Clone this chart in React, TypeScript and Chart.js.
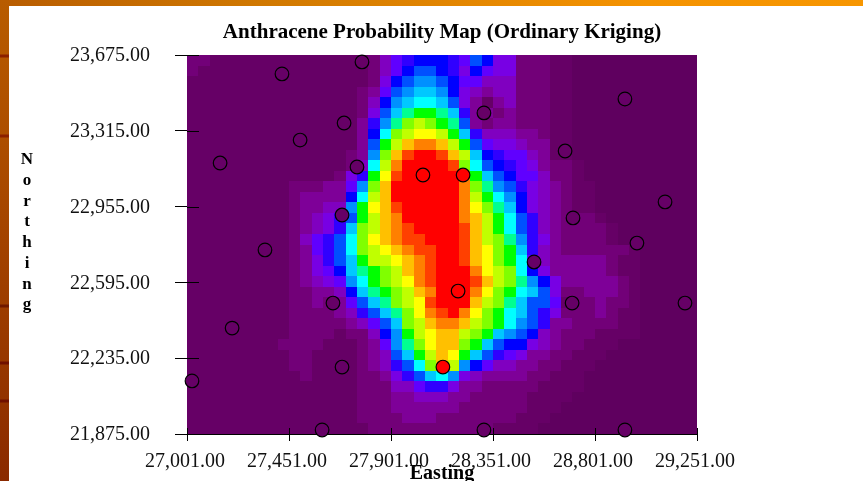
import React, { useEffect, useRef } from "react";
import { Chart, registerables } from "chart.js";

Chart.register(...registerables);

const titleText = "Anthracene Probability Map (Ordinary Kriging)";
const xAxisTitle = "Easting";
const yAxisTitle = "Northing";
const xTickValues = [27001, 27451, 27901, 28351, 28801, 29251];
const yTickValues = [21875, 22235, 22595, 22955, 23315, 23675];

const gridEastStart = 27001;
const gridNorthTop = 23675;
const gridStep = 50;

// Probability class of each kriged cell, north to south, west to east.
const levelRows: number[][] = [
  [2,2,1,1,1, 1,1,1,1,1, 1,1,1,1,1, 1,2,4,6,7, 8,8,8,7,6, 9,8,5,5,2, 2,2,1,1,0, 0,0,0,0,0, 0,0,0,0,0],
  [2,1,1,1,1, 1,1,1,1,1, 1,1,1,1,1, 1,2,4,6,8, 9,9,8,7,5, 8,6,5,5,2, 2,2,1,1,0, 0,0,0,0,0, 0,0,0,0,0],
  [1,1,1,1,1, 1,1,1,1,1, 1,1,1,1,1, 1,2,5,8,9, 10,10,9,8,6, 6,4,4,4,2, 2,2,1,1,0, 0,0,0,0,0, 0,0,0,0,0],
  [1,1,1,1,1, 1,1,1,1,1, 1,1,1,1,1, 2,3,6,9,10, 11,11,10,8,5, 4,3,4,4,2, 2,2,1,1,0, 0,0,0,0,0, 0,0,0,0,0],
  [1,1,1,1,1, 1,1,1,1,1, 1,1,1,1,1, 2,4,8,10,11, 12,12,11,9,5, 3,1,3,4,2, 2,2,1,1,0, 0,0,0,0,0, 0,0,0,0,0],
  [1,1,1,1,1, 1,1,1,1,1, 1,1,1,1,1, 2,5,9,11,13, 14,14,13,11,7, 3,3,2,3,2, 2,2,1,1,0, 0,0,0,0,0, 0,0,0,0,0],
  [1,1,1,1,1, 1,1,1,1,1, 1,1,1,1,1, 3,7,10,13,15, 16,15,14,13,9, 3,2,3,3,2, 2,2,1,1,0, 0,0,0,0,0, 0,0,0,0,0],
  [1,1,1,1,1, 1,1,1,1,1, 1,1,1,1,1, 3,8,12,15,16, 17,17,16,14,11, 7,4,4,4,3, 3,2,1,1,0, 0,0,0,0,0, 0,0,0,0,0],
  [1,1,1,1,1, 1,1,1,1,1, 1,1,1,1,1, 3,9,14,16,18, 19,19,18,16,14, 9,6,5,5,4, 3,3,1,1,0, 0,0,0,0,0, 0,0,0,0,0],
  [1,1,1,1,1, 1,1,1,1,1, 1,1,1,1,2, 3,10,15,18,20, 21,21,20,18,16, 11,8,7,6,6, 4,3,1,1,0, 0,0,0,0,0, 0,0,0,0,0],
  [1,1,1,1,1, 1,1,1,1,1, 1,1,1,1,2, 4,12,16,19,21, 21,21,21,20,15, 12,9,8,7,6, 5,3,2,2,1, 0,0,0,0,0, 0,0,0,0,0],
  [1,1,1,1,1, 1,1,1,1,1, 1,1,1,2,5, 7,14,17,20,21, 21,21,21,21,19, 14,11,9,8,6, 6,4,2,2,1, 0,0,0,0,0, 0,0,0,0,0],
  [1,1,1,1,1, 1,1,1,1,2, 2,2,3,3,6, 10,15,18,21,21, 21,21,21,21,19, 15,13,10,9,7, 5,4,3,2,1, 1,0,0,0,0, 0,0,0,0,0],
  [1,1,1,1,1, 1,1,1,1,2, 3,3,3,3,8, 12,16,18,21,21, 21,21,21,21,19, 16,14,12,10,8, 5,4,3,2,1, 1,0,0,0,0, 0,0,0,0,0],
  [1,1,1,1,1, 1,1,1,1,2, 3,3,4,4,10, 14,17,18,20,21, 21,21,21,21,19, 17,15,13,11,8, 5,4,3,2,1, 1,0,0,0,0, 0,0,0,0,0],
  [1,1,1,1,1, 1,1,1,1,2, 3,4,5,7,9, 14,16,18,19,21, 21,21,21,21,19, 18,16,14,12,9, 7,4,3,2,2, 2,1,0,0,0, 0,0,0,0,0],
  [1,1,1,1,1, 1,1,1,1,2, 3,4,5,7,11, 15,16,18,19,20, 21,21,21,21,20, 18,16,14,12,9, 7,4,3,2,2, 2,2,1,0,0, 0,0,0,0,0],
  [1,1,1,1,1, 1,1,1,1,2, 4,6,7,9,12, 15,17,18,19,20, 20,21,21,21,20, 18,16,15,13,10, 7,5,3,2,2, 2,2,1,0,0, 0,0,0,0,0],
  [1,1,1,1,1, 1,1,1,1,2, 3,6,7,9,12, 15,16,17,18,19, 20,20,21,21,20, 18,17,15,14,11, 7,4,3,2,2, 2,2,2,2,1, 0,0,0,0,0],
  [1,1,1,1,1, 1,1,1,1,2, 3,5,7,9,11, 14,16,16,17,18, 19,20,21,21,20, 18,17,15,14,12, 6,4,3,3,3, 3,3,2,1,1, 0,0,0,0,0],
  [1,1,1,1,1, 1,1,1,1,2, 3,5,6,8,11, 13,14,15,16,18, 19,20,21,21,21, 19,17,16,15,12, 8,5,3,3,3, 3,3,2,1,1, 0,0,0,0,0],
  [1,1,1,1,1, 1,1,1,1,2, 3,4,5,6,10, 12,14,15,16,17, 19,20,21,21,21, 20,18,16,15,13, 10,8,5,3,3, 3,3,3,2,1, 0,0,0,0,0],
  [1,1,1,1,1, 1,1,1,1,2, 2,3,3,4,8, 11,13,14,15,16, 18,19,21,21,21, 19,17,15,14,12, 11,9,5,2,2, 3,3,3,2,1, 0,0,0,0,0],
  [1,1,1,1,1, 1,1,1,1,2, 2,3,2,3,6, 9,11,13,15,16, 17,20,21,21,21, 18,16,15,13,11, 9,9,6,1,2, 2,3,2,2,1, 0,0,0,0,0],
  [1,1,1,1,1, 1,1,1,1,2, 2,2,2,3,4, 7,9,11,13,15, 17,19,20,21,19, 17,15,14,12,11, 9,7,5,2,2, 2,3,2,1,1, 0,0,0,0,0],
  [1,1,1,1,1, 1,1,1,1,2, 2,2,2,2,3, 4,6,9,11,15, 16,18,19,19,18, 16,15,14,12,10, 9,7,3,3,2, 2,2,2,1,1, 0,0,0,0,0],
  [1,1,1,1,1, 1,1,1,1,2, 2,2,2,1,2, 2,4,8,10,14, 16,17,18,18,16, 15,14,11,10,9, 8,4,3,2,2, 2,1,1,1,1, 0,0,0,0,0],
  [1,1,1,1,1, 1,1,1,2,2, 2,2,1,1,1, 2,3,6,10,13, 15,17,18,18,15, 14,11,9,8,8, 5,4,3,2,2, 1,1,1,0,0, 0,0,0,0,0],
  [1,1,1,1,1, 1,1,1,1,2, 2,1,1,1,1, 2,3,4,9,11, 14,16,18,17,14, 11,9,7,6,5, 3,3,2,2,1, 1,1,0,0,0, 0,0,0,0,0],
  [1,1,1,1,1, 1,1,1,1,2, 2,1,1,1,1, 2,3,4,7,9, 12,15,18,16,10, 8,6,4,4,3, 3,2,2,1,1, 1,0,0,0,0, 0,0,0,0,0],
  [1,1,1,1,1, 1,1,1,1,1, 2,1,1,1,1, 2,2,3,5,7, 9,11,12,10,5, 4,3,3,3,3, 2,2,1,1,1, 0,0,0,0,0, 0,0,0,0,0],
  [1,1,1,1,1, 1,1,1,1,1, 1,1,1,1,1, 2,2,2,4,4, 6,7,7,5,3, 3,2,2,2,2, 2,1,1,1,1, 0,0,0,0,0, 0,0,0,0,0],
  [1,1,1,1,1, 1,1,1,1,1, 1,1,1,1,1, 2,2,2,3,3, 4,4,4,3,3, 2,2,2,2,2, 1,1,1,1,0, 0,0,0,0,0, 0,0,0,0,0],
  [1,1,1,1,1, 1,1,1,1,1, 1,1,1,1,1, 2,2,2,3,3, 3,3,3,3,2, 2,2,2,2,2, 1,1,1,0,0, 0,0,0,0,0, 0,0,0,0,0],
  [1,1,1,1,1, 1,1,1,1,1, 1,1,1,1,1, 2,2,2,2,3, 3,3,2,2,2, 2,2,2,2,1, 1,1,0,0,0, 0,0,0,0,0, 0,0,0,0,0],
  [1,1,1,1,1, 1,1,1,1,1, 1,1,1,1,1, 1,2,2,2,2, 2,2,2,2,2, 2,2,1,1,1, 1,0,0,0,0, 0,0,0,0,0, 0,0,0,0,0],
];

const levelColors = [
  "#5f005f", "#660066", "#720078", "#7e0098", "#8000c0", "#7800e4", "#6000ff", "#3000ff",
  "#0000ff", "#0050ff", "#0090ff", "#00c8ff", "#00ffff", "#00ff90", "#00ff00", "#80ff00",
  "#c0ff00", "#ffff00", "#ffc000", "#ff8000", "#ff4000", "#ff0000",
];

const sampleEasting = [27773, 27420, 28933, 28311, 27694, 27500, 28669, 27147, 27751, 28042, 28219, 29110, 27685, 28704, 28986, 27345, 28532, 28197, 27645, 28700, 29198, 27200, 28130, 27685, 27023, 27597, 28311, 28933];
const sampleNorthing = [23642, 23585, 23466, 23400, 23352, 23271, 23219, 23162, 23143, 23105, 23105, 22977, 22915, 22901, 22782, 22749, 22692, 22554, 22497, 22497, 22497, 22378, 22193, 22193, 22127, 21894, 21894, 21894];
const sampleIndicator = [0, 0, 0, 0, 0, 0, 0, 0, 0, 1, 1, 0, 0, 0, 0, 0, 0, 1, 0, 0, 0, 0, 1, 0, 0, 0, 0, 0];

const fontFamily = '"Liberation Serif", serif';

const heatmapPlugin = {
  id: "krigingCells",
  beforeDatasetsDraw(chart: any) {
    const { ctx, scales } = chart;
    const { x, y } = scales;
    ctx.save();
    levelRows.forEach((row, r) => {
      const top = Math.round(y.getPixelForValue(gridNorthTop - r * gridStep));
      const bottom = Math.round(y.getPixelForValue(gridNorthTop - (r + 1) * gridStep));
      row.forEach((level, c) => {
        const left = Math.round(x.getPixelForValue(gridEastStart + c * gridStep));
        const right = Math.round(x.getPixelForValue(gridEastStart + (c + 1) * gridStep));
        ctx.fillStyle = levelColors[level];
        ctx.fillRect(left, top, right - left, bottom - top);
      });
    });
    ctx.restore();
  },
  afterDatasetsDraw(chart: any) {
    const { ctx, scales } = chart;
    const { x, y } = scales;
    ctx.save();
    ctx.strokeStyle = "#000";
    ctx.lineWidth = 1;
    ctx.beginPath();
    xTickValues.forEach((v) => {
      const px = Math.round(x.getPixelForValue(v)) + 0.5;
      ctx.moveTo(px, y.bottom);
      ctx.lineTo(px, y.bottom - 6);
    });
    yTickValues.forEach((v) => {
      const py = Math.round(y.getPixelForValue(v)) + 0.5;
      ctx.moveTo(x.left, py);
      ctx.lineTo(x.left + 12, py);
    });
    ctx.stroke();
    ctx.fillStyle = "#000";
    ctx.font = `bold 17px ${fontFamily}`;
    ctx.textAlign = "center";
    ctx.textBaseline = "middle";
    Array.from(yAxisTitle).forEach((letter, i) => {
      ctx.fillText(letter, 27, 160 + i * 20.7);
    });
    ctx.restore();
  },
};

const formatTick = (value: number | string) =>
  Number(value).toLocaleString("en-US", { minimumFractionDigits: 2, maximumFractionDigits: 2 });

export default function App() {
  const canvasRef = useRef<HTMLCanvasElement | null>(null);

  useEffect(() => {
    if (!canvasRef.current) return;
    const chart = new Chart(canvasRef.current, {
      type: "scatter",
      data: {
        datasets: [
          {
            label: "Samples",
            data: sampleEasting.map((e, i) => ({ x: e, y: sampleNorthing[i] })),
            pointRadius: 6.8,
            pointBorderWidth: 1.2,
            pointBorderColor: "#000",
            pointBackgroundColor: sampleIndicator.map((v) => (v ? "#ff0000" : "#660066")),
            clip: false,
          },
        ],
      },
      options: {
        responsive: false,
        animation: false,
        layout: { padding: { left: 0, right: 166, top: 0, bottom: 0 } },
        plugins: {
          legend: { display: false },
          tooltip: { enabled: false },
          title: {
            display: true,
            fullSize: false,
            text: titleText,
            color: "#000",
            font: { family: fontFamily, size: 21, weight: "bold" },
            padding: { top: 20.4, bottom: 9.4 },
          },
        },
        scales: {
          x: {
            type: "linear",
            min: 27001,
            max: 29251,
            afterBuildTicks: (s: any) => {
              s.ticks = xTickValues.map((value) => ({ value }));
            },
            afterFit: (s: any) => {
              s.height = 47;
            },
            ticks: {
              callback: formatTick,
              color: "#111",
              maxRotation: 0,
              autoSkip: false,
              padding: 9,
              labelOffset: -2,
              font: { family: fontFamily, size: 20 },
            },
            grid: { drawOnChartArea: false, tickLength: 7, color: "#000" },
            border: { color: "#000", width: 1 },
            title: {
              display: true,
              text: xAxisTitle,
              color: "#000",
              padding: { top: 0, bottom: -3 },
              font: { family: fontFamily, size: 20, weight: "bold", lineHeight: 1 },
            },
          },
          y: {
            type: "linear",
            min: 21875,
            max: 23675,
            afterBuildTicks: (s: any) => {
              s.ticks = yTickValues.map((value) => ({ value }));
            },
            afterFit: (s: any) => {
              s.width = 187;
            },
            ticks: {
              callback: formatTick,
              color: "#111",
              autoSkip: false,
              padding: 25,
              labelOffset: 1,
              font: { family: fontFamily, size: 20 },
            },
            grid: { drawOnChartArea: false, tickLength: 12, color: "#000" },
            border: { color: "#000", width: 1 },
          },
        },
      },
      plugins: [heatmapPlugin],
    } as any);
    return () => chart.destroy();
  }, []);

  return (
    <div style={{ position: "fixed", left: 0, top: 0, width: 863, height: 481, background: "#fff", overflow: "hidden" }}>
      <div
        style={{
          position: "absolute", left: 0, top: 0, width: 863, height: 6,
          background: "linear-gradient(90deg, #b85c00 0%, #d07800 30%, #f59300 75%, #f79600 100%)",
        }}
      />
      <div
        style={{
          position: "absolute", left: 0, top: 0, width: 9, height: 481,
          background:
            "linear-gradient(180deg, transparent 54px, #8c2000 55px, #8c2000 57px, transparent 58px, transparent 134px, #8c2000 135px, #8c2000 137px, transparent 138px, transparent 304px, #701800 305px, #701800 307px, transparent 308px, transparent 361px, #701000 362px, #701000 364px, transparent 365px, transparent 399px, #701000 400px, #701000 402px, transparent 403px), linear-gradient(180deg, #b85c00 0%, #a84800 40%, #8a2a00 100%)",
        }}
      />
      <canvas ref={canvasRef} width={863} height={481} style={{ position: "absolute", left: 0, top: 0, display: "block" }} />
    </div>
  );
}
